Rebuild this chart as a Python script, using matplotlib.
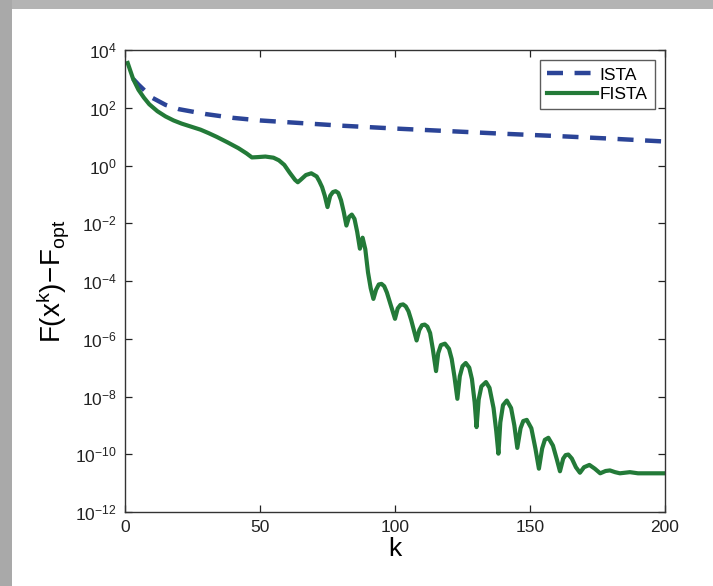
import numpy as np
import matplotlib
matplotlib.use("Agg")
import matplotlib.pyplot as plt
from matplotlib.patches import Rectangle

plt.rcParams['font.family'] = ['Liberation Sans', 'DejaVu Sans']
plt.rcParams['mathtext.fontset'] = 'custom'
plt.rcParams['mathtext.rm'] = 'Liberation Sans'
plt.rcParams['mathtext.it'] = 'Liberation Sans'
plt.rcParams['mathtext.bf'] = 'Liberation Sans:bold'

# ---- data (exponents are log10 of F - Fopt) ----
ista_k = [3, 5, 10, 15, 20, 30, 40, 50, 60, 80, 100, 120, 140, 160, 180, 200]
ista_exp = [3.0, 2.8, 2.35, 2.1, 1.95, 1.78, 1.65, 1.56, 1.50, 1.38, 1.28,
            1.19, 1.10, 1.02, 0.93, 0.83]

fista_k = [1, 3, 5, 7, 9, 12, 15, 18, 21, 25, 28, 31, 34, 38, 42, 45, 47, 49,
           52, 55, 57, 59, 61, 63, 64, 65, 67, 69, 71, 72, 73, 74, 75, 76, 77,
           78, 79, 80, 81, 82, 83, 84, 85, 86, 87, 88, 89, 90, 91, 92, 93, 94,
           95, 96, 97, 98, 99, 100, 101, 102, 103, 104, 105, 106, 107, 108,
           109, 110, 111, 112, 113, 114, 115.2, 116, 117, 118.5, 120, 121, 122,
           123.1, 124, 125, 126.2, 127.5, 128.5, 129.5, 130.2, 131, 132, 133.7,
           135, 136.5, 137.5, 138.3, 139, 140, 141.4, 143, 144.2, 145.3, 146.5,
           147.5, 148.8, 150.5, 152, 153.3, 154.5, 155.5, 156.8, 158.5, 160,
           161.1, 162.3, 163.2, 164.2, 165.5, 167, 168.5, 170, 172, 174, 176,
           178, 179.6, 181.5, 183.3, 187, 190, 200]
fista_exp = [3.55, 3.0, 2.62, 2.35, 2.12, 1.88, 1.70, 1.56, 1.45, 1.33, 1.24,
             1.12, 0.99, 0.80, 0.60, 0.42, 0.28, 0.29, 0.31, 0.27, 0.18, 0.02,
             -0.25, -0.50, -0.58, -0.50, -0.33, -0.27, -0.38, -0.55, -0.75,
             -1.05, -1.44, -1.05, -0.92, -0.89, -0.95, -1.20, -1.60, -2.08,
             -1.78, -1.70, -1.85, -2.30, -2.88, -2.50, -2.90, -3.70, -4.25,
             -4.62, -4.30, -4.12, -4.10, -4.18, -4.40, -4.70, -5.00, -5.31,
             -4.95, -4.83, -4.81, -4.88, -5.05, -5.35, -5.70, -6.06, -5.70,
             -5.53, -5.51, -5.58, -5.80, -6.35, -7.12, -6.50, -6.22, -6.17,
             -6.35, -6.70, -7.30, -8.08, -7.30, -6.95, -6.84, -7.00, -7.40,
             -8.20, -9.06, -8.10, -7.65, -7.50, -7.70, -8.40, -9.20, -9.98,
             -8.90, -8.30, -8.14, -8.40, -9.00, -9.78, -9.10, -8.85, -8.81,
             -9.10, -9.80, -10.50, -9.80, -9.50, -9.43, -9.70, -10.20, -10.59,
             -10.15, -10.03, -10.01, -10.15, -10.45, -10.64, -10.45, -10.37,
             -10.50, -10.66, -10.58, -10.56, -10.62, -10.66, -10.62, -10.66,
             -10.66]

x_ticks = [0, 50, 100, 150, 200]
y_tick_exps = [-12, -10, -8, -6, -4, -2, 0, 2, 4]

ista_color = '#2b4497'
fista_color = '#237a38'

fig = plt.figure(figsize=(7.13, 5.86), dpi=100)
fig.patch.set_facecolor('white')

# gray frame (top and left bands)
fig.patches.append(Rectangle((0, 1 - 9 / 586), 1, 9 / 586, transform=fig.transFigure,
                             facecolor='#b4b4b4', edgecolor='none', zorder=0))
fig.patches.append(Rectangle((0, 0), 12 / 713, 1, transform=fig.transFigure,
                             facecolor='#a9a9a9', edgecolor='none', zorder=0))

ax = fig.add_axes([125 / 713, 1 - 512 / 586, 540 / 713, 462 / 586])

ax.plot(ista_k, 10.0 ** np.array(ista_exp), color=ista_color, lw=3.2,
        linestyle=(0, (3.6, 2.6)), label='ISTA')
ax.plot(fista_k, 10.0 ** np.array(fista_exp), color=fista_color, lw=3.0,
        label='FISTA', solid_joinstyle='round')

ax.set_yscale('log')
ax.set_xlim(0, 200)
ax.set_ylim(1e-12, 1e4)
ax.set_xticks(x_ticks)
ax.set_xticklabels([str(t) for t in x_ticks])
ax.set_yticks([10.0 ** e for e in y_tick_exps])
ax.set_yticklabels([r'$10^{%s}$' % (str(e).replace('-', '\u2212')) for e in y_tick_exps])
ax.yaxis.set_minor_locator(matplotlib.ticker.NullLocator())

ax.tick_params(axis='both', which='major', direction='in', length=5, width=0.9,
               top=True, right=True, labelsize=12.5, colors='#222222', pad=6)
for sp in ax.spines.values():
    sp.set_color('#333333')
    sp.set_linewidth(1.0)

ax.set_xlabel('k', fontsize=19, labelpad=1)
ax.set_ylabel(r'$\mathrm{F(x^k)\!-\!F_{opt}}$', fontsize=20, labelpad=3)

leg = ax.legend(loc='upper right', fontsize=12.5, fancybox=False, frameon=True,
                edgecolor='#333333', handlelength=2.9, handletextpad=0.15,
                borderaxespad=0.6, borderpad=0.4, labelspacing=0.25)
leg.get_frame().set_linewidth(1.0)

fig.savefig('out.png', dpi=100)
